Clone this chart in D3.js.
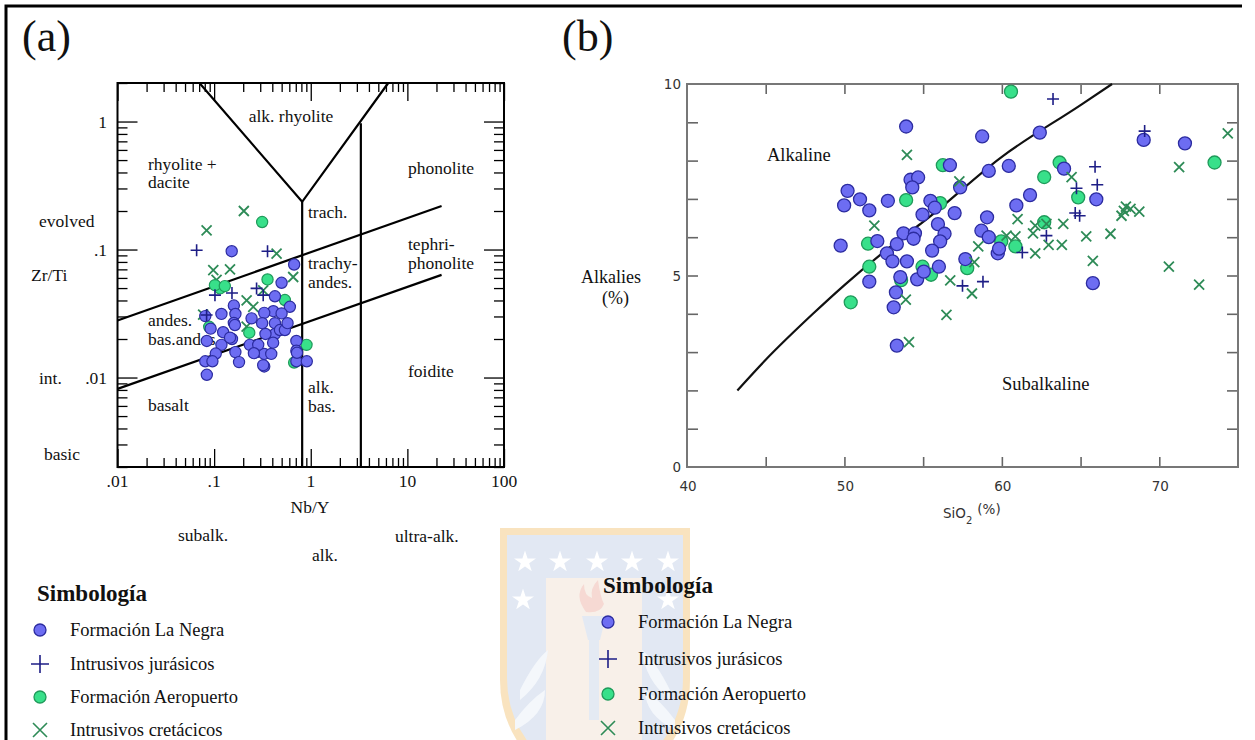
<!DOCTYPE html>
<html><head><meta charset="utf-8">
<script src="https://cdn.jsdelivr.net/npm/d3@7"></script>
<style>
body{margin:0;background:#fff}
svg{display:block}
</style>
</head><body>
<svg id="c" width="1255" height="740"></svg>
<script>
// ---------------- DATA ----------------
// Panel (a): Nb/Y vs Zr/Ti (log-log)
const aLaNegra = [[0.152,0.097],[0.673,0.0764],[0.499,0.055],[0.426,0.0431],[0.608,0.0357],[0.41,0.033],[0.33,0.032],[0.499,0.0317],[0.314,0.0266],[0.426,0.0266],[0.426,0.0219],[0.48,0.0235],[0.54,0.0235],[0.34,0.0219],[0.234,0.018],[0.276,0.0158],[0.33,0.0153],[0.39,0.0153],[0.33,0.0122],[0.71,0.0193],[0.71,0.0162],[0.71,0.0134],[0.91,0.0134],[0.153,0.02],[0.166,0.0158],[0.181,0.0132],[0.081,0.0302],[0.119,0.0314],[0.16,0.0365],[0.166,0.0314],[0.16,0.0267],[0.092,0.0241],[0.124,0.0226],[0.084,0.0193],[0.119,0.018],[0.104,0.0154],[0.081,0.0134],[0.096,0.0134],[0.084,0.0105],[0.244,0.029],[0.286,0.018],[0.72,0.0156],[0.575,0.0266],[0.146,0.0205],[0.258,0.0155],[0.408,0.0187],[0.322,0.0125],[0.164,0.0257]];
const aJurasicos = [[0.0659,0.0988],[0.357,0.097],[0.275,0.0497],[0.322,0.044],[0.102,0.044],[0.153,0.0457],[0.0836,0.0308]];
const aAeropuerto = [[0.314,0.164],[0.357,0.0584],[0.115,0.0497],[0.102,0.0527],[0.129,0.0518],[0.54,0.0403],[0.089,0.0249],[0.231,0.0224],[0.904,0.018],[0.673,0.0131]];
const aCretacicos = [[0.203,0.200],[0.0836,0.141],[0.443,0.093],[0.098,0.069],[0.146,0.070],[0.106,0.058],[0.658,0.061],[0.217,0.040],[0.254,0.0357],[0.322,0.048],[0.077,0.031],[0.217,0.025]];
// Panel (a) field boundaries (Nb/Y, Zr/Ti)
const aUpperDiag = [[0.01,0.0279],[22.6,0.219]];
const aLowerDiag = [[0.01,0.00815],[22.6,0.0634]];
const aVee = [[0.0705,2],[0.815,0.236],[6.34,2]];
const aVert1 = [[0.815,0.236],[0.815,0.002]];
const aVert2 = [[3.3,0.97],[3.3,0.002]];
const aXTickVals = [0.01,0.1,1,10,100];
const aXTickLabels = [".01",".1","1","10","100"];
const aYTickVals = [1,0.1,0.01];
const aYTickLabels = ["1",".1",".01"];

// Panel (b): SiO2 vs alkalies
const bLaNegra = [[53.92,8.89],[58.75,8.63],[62.41,8.73],[69.01,8.54],[71.63,8.45],[56.70,7.88],[59.17,7.73],[60.44,7.86],[63.95,7.79],[54.2,7.5],[54.68,7.56],[54.31,7.30],[57.35,7.30],[50.2,7.21],[49.98,6.83],[50.99,6.99],[51.58,6.70],[52.76,6.95],[55.46,6.95],[54.96,6.59],[55.74,6.77],[57.0,6.63],[60.92,6.83],[61.79,7.10],[66.0,6.99],[59.06,6.52],[55.94,6.34],[56.36,6.09],[53.75,6.10],[54.48,6.10],[54.39,5.96],[52.09,5.90],[53.33,5.82],[56.08,5.89],[58.7,6.17],[59.17,6.0],[49.76,5.78],[52.7,5.58],[53.05,5.37],[55.57,5.65],[57.68,5.43],[59.74,5.58],[59.82,5.70],[53.97,5.37],[53.55,4.96],[51.58,4.84],[54.62,4.90],[55.04,5.10],[56.0,5.23],[53.27,4.56],[53.13,4.17],[53.33,3.17],[65.78,4.80]];
const bJurasicos = [[63.25,9.61],[69.07,8.77],[65.92,7.84],[66.06,7.37],[64.74,7.28],[64.66,6.63],[64.94,6.56],[62.83,6.04],[61.3,5.60],[58.8,4.84],[57.5,4.73]];
const bAeropuerto = [[60.58,9.80],[56.25,7.88],[63.67,7.95],[62.69,7.57],[64.85,7.04],[73.51,7.95],[53.92,6.97],[56.08,6.89],[62.69,6.39],[51.5,5.83],[51.58,5.23],[59.96,5.89],[60.86,5.76],[54.96,5.23],[55.5,5.02],[57.8,5.19],[50.4,4.30],[53.6,4.88]];
const bCretacicos = [[53.97,8.15],[57.3,7.46],[64.43,7.57],[51.9,6.30],[61.0,6.47],[62.12,6.30],[62.83,6.35],[63.9,6.35],[61.98,6.10],[60.3,6.04],[60.86,6.02],[62.97,5.80],[63.81,5.80],[62.12,5.58],[65.36,6.02],[66.9,6.09],[67.6,6.56],[67.88,6.8],[68.17,6.74],[68.73,6.67],[67.75,6.69],[65.78,5.38],[71.26,7.83],[74.35,8.71],[70.61,5.23],[72.53,4.76],[58.5,5.76],[58.25,5.35],[56.72,4.87],[58.1,4.53],[53.9,4.37],[56.48,3.97],[54.1,3.26]];
// Irvine & Baragar alkaline/subalkaline divide
const bDivide = [[43.2,2.0],[45,2.8],[48,4.0],[50,4.75],[53.7,6.0],[55,6.4],[60,8.1],[65,9.45],[67,10.0]];
const bXTickVals = [40,50,60,70];
const bYTickVals = [0,5,10];

const legendLabels = ["Formación La Negra","Intrusivos jurásicos","Formación Aeropuerto","Intrusivos cretácicos"];

// ---------------- STYLE ----------------
const SERIF = '"Liberation Serif","Times New Roman",serif';
const SANS = '"DejaVu Sans",Verdana,sans-serif';
const BLUE_F = "#6d6df2", BLUE_S = "#2c2ca0";
const GREEN_F = "#38e08a", GREEN_S = "#1f9a5a";
const XCOL = "#2e8b57", PCOL = "#1e1e86";
const FS = 17.5;

const svg = d3.select("#c");

// ---------------- WATERMARK ----------------
(function(){
  const g = svg.append("g").attr("opacity",0.85);
  g.append("path").attr("d","M500,528 L690,528 L690,680 Q690,760 595,800 Q500,760 500,680 Z").attr("fill","#f8dfb4");
  g.append("path").attr("d","M507,535 L683,535 L683,678 Q683,752 595,790 Q507,752 507,678 Z").attr("fill","#dde5f2");
  g.append("rect").attr("x",546).attr("y",578).attr("width",96).attr("height",170).attr("fill","#f7eee6");
  g.append("path").attr("d","M586,612 Q574,596 584,584 Q584,596 592,598 Q590,588 598,580 Q600,596 604,604 Q600,614 586,612 Z").attr("fill","#f5d3cc");
  g.append("path").attr("d","M582,616 L606,616 L600,640 L588,640 Z").attr("fill","#dfe6f2");
  g.append("rect").attr("x",589).attr("y",640).attr("width",10).attr("height",80).attr("fill","#e0e7f2");
  g.append("path").attr("d","M520,690 Q535,660 548,650 Q545,680 520,700 Z M515,720 Q530,700 545,690 Q545,715 515,730 Z M670,690 Q655,660 642,650 Q645,680 670,700 Z M675,720 Q660,700 645,690 Q645,715 675,730 Z").attr("fill","#f3f6fb");
  const star = d3.symbol().type(d3.symbolStar).size(150);
  [[525,562],[560,562],[597,562],[632,562],[668,562],[523,600],[668,600]].forEach(p=>{
    g.append("path").attr("d",star()).attr("transform",`translate(${p[0]},${p[1]})`).attr("fill","#ffffff");
  });
})();

// ---------------- OUTER BORDER ----------------
svg.append("path").attr("d","M6,740 V6 H1242").attr("fill","none").attr("stroke","#000").attr("stroke-width",3);

function txt(g, s, x, y, o={}) {
  return g.append("text").attr("x",x).attr("y",y).attr("dominant-baseline","central")
    .attr("text-anchor",o.anchor||"start").attr("font-family",o.family||SERIF)
    .attr("font-size",o.size||FS).attr("font-weight",o.weight||"normal")
    .attr("fill",o.fill||"#111").text(s);
}
function plusPath(h){return `M${-h},0H${h}M0,${-h}V${h}`;}
function crossPath(h){return `M${-h},${-h}L${h},${h}M${h},${-h}L${-h},${h}`;}

// ---------------- PANEL (a) ----------------
const xa = d3.scaleLog().domain([0.01,100]).range([117.5,504]);
const ya = d3.scaleLog().domain([0.002,2]).range([467,83]);
const ga = svg.append("g");

txt(ga,"(a)",22,36,{size:44});

function inwardAxis(g, axisFn, scale, vals, size, tx, ty){
  const ax = g.append("g").attr("transform",`translate(${tx},${ty})`)
    .call(axisFn(scale).tickValues(vals).tickSize(-size).tickFormat(""));
  ax.select(".domain").remove();
  ax.selectAll("line").attr("stroke","#000").attr("stroke-width",1.3);
}
const aXminor = xa.ticks().filter(v=>!aXTickVals.some(m=>Math.abs(m-v)/m<1e-6));
const aYminor = ya.ticks().filter(v=>!aYTickVals.some(m=>Math.abs(m-v)/m<1e-6));
inwardAxis(ga,d3.axisBottom,xa,aXminor,9,0,467);
inwardAxis(ga,d3.axisBottom,xa,aXTickVals,18,0,467);
inwardAxis(ga,d3.axisTop,xa,aXminor,9,0,83);
inwardAxis(ga,d3.axisTop,xa,aXTickVals,18,0,83);
inwardAxis(ga,d3.axisLeft,ya,aYminor,10,117.5,0);
inwardAxis(ga,d3.axisLeft,ya,aYTickVals,20,117.5,0);
inwardAxis(ga,d3.axisRight,ya,aYminor,10,504,0);
inwardAxis(ga,d3.axisRight,ya,aYTickVals,20,504,0);
ga.append("rect").attr("x",117.5).attr("y",83).attr("width",504-117.5).attr("height",467-83)
  .attr("fill","none").attr("stroke","#000").attr("stroke-width",2);

aXTickVals.forEach((v,i)=>txt(ga,aXTickLabels[i],xa(v),481,{anchor:"middle"}));
aYTickVals.forEach((v,i)=>txt(ga,aYTickLabels[i],107,ya(v),{anchor:"end"}));

const lineA = d3.line().x(d=>xa(d[0])).y(d=>ya(d[1]));
[aUpperDiag,aLowerDiag,aVee,aVert1,aVert2].forEach(d=>{
  ga.append("path").attr("d",lineA(d)).attr("fill","none").attr("stroke","#000").attr("stroke-width",2.2);
});

const aLabels = [
  ["alk. rhyolite",291,116,"middle"],["rhyolite +",148,164],["dacite",148,182],["phonolite",408,168],
  ["evolved",39,221],["trach.",308,212],["tephri-",408,244],["phonolite",408,263],["Zr/Ti",31,275],
  ["trachy-",308,263],["andes.",308,282],["andes.",148,320],["bas.andes.",148,339],["int.",39,378],
  ["foidite",408,371],["alk.",308,387],["bas.",308,406],["basalt",148,405],["basic",44,454],
  ["Nb/Y",310,507,"middle"],["subalk.",178,535],["alk.",312,555],["ultra-alk.",395,536]
];
aLabels.forEach(l=>txt(ga,l[0],l[1],l[2],{anchor:l[3]||"start"}));

const ma = ga.append("g");
ma.selectAll(".xc").data(aCretacicos).join("path").attr("d",crossPath(5))
  .attr("transform",d=>`translate(${xa(d[0])},${ya(d[1])})`).attr("stroke",XCOL).attr("stroke-width",1.8).attr("fill","none");
ma.selectAll(".gc").data(aAeropuerto).join("circle").attr("cx",d=>xa(d[0])).attr("cy",d=>ya(d[1])).attr("r",5.6)
  .attr("fill",GREEN_F).attr("stroke",GREEN_S).attr("stroke-width",1.2);
ma.selectAll(".bc").data(aLaNegra).join("circle").attr("cx",d=>xa(d[0])).attr("cy",d=>ya(d[1])).attr("r",5.6)
  .attr("fill",BLUE_F).attr("stroke",BLUE_S).attr("stroke-width",1.2);
ma.selectAll(".pl").data(aJurasicos).join("path").attr("d",plusPath(6))
  .attr("transform",d=>`translate(${xa(d[0])},${ya(d[1])})`).attr("stroke",PCOL).attr("stroke-width",1.6).attr("fill","none");

// ---------------- PANEL (b) ----------------
const xb = d3.scaleLinear().domain([40,75]).range([687,1238]);
const yb = d3.scaleLinear().domain([0,10]).range([467,84]);
const gb = svg.append("g");
txt(gb,"(b)",562,36,{size:44});

function inwardAxisB(axisFn, scale, vals, size, tx, ty){
  const ax = gb.append("g").attr("transform",`translate(${tx},${ty})`)
    .call(axisFn(scale).tickValues(vals).tickSize(-size).tickFormat(""));
  ax.select(".domain").remove();
  ax.selectAll("line").attr("stroke","#666").attr("stroke-width",1.6);
}
const bXt = d3.range(45,75,5);
const bYt = d3.range(1,10,1);
inwardAxisB(d3.axisBottom,xb,bXt,10,0,467);
inwardAxisB(d3.axisTop,xb,bXt,10,0,84);
inwardAxisB(d3.axisLeft,yb,bYt,11,687,0);
inwardAxisB(d3.axisRight,yb,bYt,11,1238,0);
gb.append("rect").attr("x",687).attr("y",84).attr("width",1238-687).attr("height",467-84)
  .attr("fill","none").attr("stroke","#777").attr("stroke-width",2);

bXTickVals.forEach(v=>txt(gb,String(v),xb(v)+1,486,{anchor:"middle",family:SANS,size:13.5,fill:"#333"}));
bYTickVals.forEach(v=>txt(gb,String(v),681,yb(v),{anchor:"end",family:SANS,size:13.5,fill:"#333"}));
// axis titles
const sio = gb.append("text").attr("x",943).attr("y",513).attr("dominant-baseline","central")
  .attr("font-family",SANS).attr("font-size",13.5).attr("fill","#333");
sio.append("tspan").text("SiO");
sio.append("tspan").attr("font-size",10).attr("dy",7).text("2");
sio.append("tspan").attr("dy",-11).attr("dx",5).text("(%)");
txt(gb,"Alkalies",581,277,{size:18});
txt(gb,"(%)",602,298,{size:18});
txt(gb,"Alkaline",767,155,{size:18.5});
txt(gb,"Subalkaline",1002,384,{size:18.5});

const lineB = d3.line().x(d=>xb(d[0])).y(d=>yb(d[1])).curve(d3.curveMonotoneX);
gb.append("path").attr("d",lineB(bDivide)).attr("fill","none").attr("stroke","#111").attr("stroke-width",2.2);

const mb = gb.append("g");
mb.selectAll(".gc").data(bAeropuerto).join("circle").attr("cx",d=>xb(d[0])).attr("cy",d=>yb(d[1])).attr("r",6.5)
  .attr("fill",GREEN_F).attr("stroke",GREEN_S).attr("stroke-width",1.3);
mb.selectAll(".bc").data(bLaNegra).join("circle").attr("cx",d=>xb(d[0])).attr("cy",d=>yb(d[1])).attr("r",6.5)
  .attr("fill",BLUE_F).attr("stroke",BLUE_S).attr("stroke-width",1.3);
mb.selectAll(".xc").data(bCretacicos).join("path").attr("d",crossPath(5))
  .attr("transform",d=>`translate(${xb(d[0])},${yb(d[1])})`).attr("stroke",XCOL).attr("stroke-width",1.8).attr("fill","none");
mb.selectAll(".pl").data(bJurasicos).join("path").attr("d",plusPath(6))
  .attr("transform",d=>`translate(${xb(d[0])},${yb(d[1])})`).attr("stroke",PCOL).attr("stroke-width",1.6).attr("fill","none");

// ---------------- LEGENDS ----------------
function legend(x0, tx, titleY, rows, titleX){
  const g = svg.append("g");
  txt(g,"Simbología",titleX,titleY,{size:23,weight:"bold"});
  const kinds = ["blue","plus","green","cross"];
  rows.forEach((y,i)=>{
    const k = kinds[i];
    if(k==="blue") g.append("circle").attr("cx",x0).attr("cy",y).attr("r",6).attr("fill",BLUE_F).attr("stroke",BLUE_S).attr("stroke-width",1.3);
    if(k==="green") g.append("circle").attr("cx",x0).attr("cy",y).attr("r",6).attr("fill",GREEN_F).attr("stroke",GREEN_S).attr("stroke-width",1.3);
    if(k==="plus") g.append("path").attr("d",plusPath(9)).attr("transform",`translate(${x0},${y})`).attr("stroke",PCOL).attr("stroke-width",1.6).attr("fill","none");
    if(k==="cross") g.append("path").attr("d",crossPath(7)).attr("transform",`translate(${x0},${y})`).attr("stroke",XCOL).attr("stroke-width",1.6).attr("fill","none");
    txt(g,legendLabels[i],tx,y,{size:18.5});
  });
}
legend(40,70,593,[630,664,697,730],37);
legend(608,638,585,[622,659,694,728],603);
</script>
</body></html>
